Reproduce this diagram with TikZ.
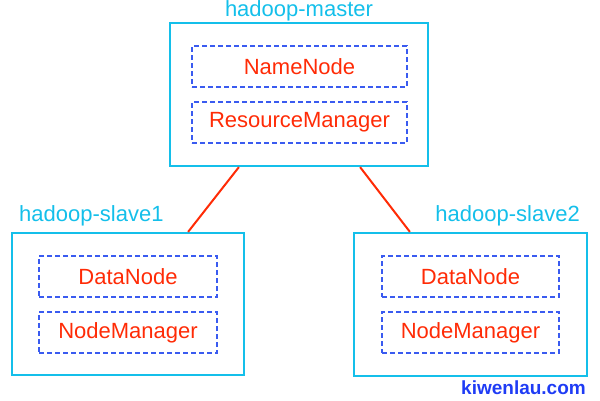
\documentclass[tikz,border=0pt]{standalone}
\usepackage{fontspec}
\setmainfont{Liberation Sans}
\usetikzlibrary{positioning}
\definecolor{hostcyan}{HTML}{14BFEA}
\definecolor{daemonred}{HTML}{FF2B06}
\definecolor{dashblue}{HTML}{3A5BF0}
\definecolor{markblue}{HTML}{1F3CF5}

\begin{document}
\begin{tikzpicture}[
  x=1pt, y=-1pt,
  font=\fontsize{22}{24}\selectfont,
  host/.style={draw=hostcyan, line width=2.2pt, inner sep=0pt},
  daemon/.style={draw=dashblue, line width=1.1pt, dash pattern=on 5pt off 3pt, inner sep=0pt, minimum height=41pt, text=daemonred},
  hostlabel/.style={text=hostcyan, inner sep=0pt},
  link/.style={draw=daemonred, line width=2pt},
]
\useasboundingbox (0,0) rectangle (600,400);

% hosts
\node[host, minimum width=258pt, minimum height=143pt] (master) at (299,94.5) {};
\node[host, minimum width=232pt, minimum height=142pt] (slave1) at (128,304) {};
\node[host, minimum width=233pt, minimum height=143pt] (slave2) at (470.5,304.5) {};

% daemons
\node[daemon, minimum width=215pt] (nn) at (299.5,66.5) {NameNode};
\node[daemon, minimum width=215pt] (rm) at (299.5,122.5) {ResourceManager};
\node[daemon, minimum width=178pt] (dn1) at (128,276.5) {DataNode};
\node[daemon, minimum width=178pt] (nm1) at (128,332.5) {NodeManager};
\node[daemon, minimum width=177pt] (dn2) at (470.5,276.5) {DataNode};
\node[daemon, minimum width=177pt] (nm2) at (470.5,332.5) {NodeManager};

% labels
\node[hostlabel, anchor=base] (masterlbl) at (299,16) {hadoop-master};
\node[hostlabel, anchor=base west] (slave1lbl) at (19,221) {hadoop-slave1};
\node[hostlabel, anchor=base east] (slave2lbl) at (580,221) {hadoop-slave2};

\draw[link] ([xshift=70pt]master.south west) -- ([xshift=-57pt]slave1.north east);
\draw[link] ([xshift=-69pt]master.south east) -- ([xshift=57pt]slave2.north west);

\node[anchor=base east, inner sep=0pt, text=markblue, font=\fontsize{19}{21}\selectfont\bfseries] (mark) at (586,394) {kiwenlau.com};
\end{tikzpicture}
\end{document}
